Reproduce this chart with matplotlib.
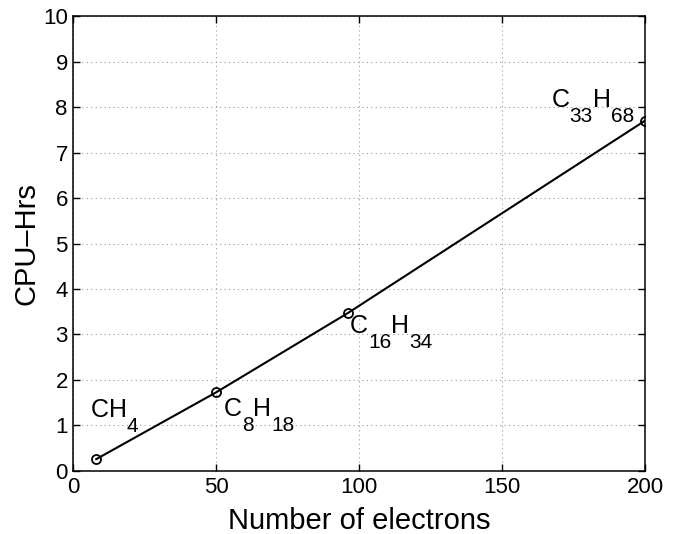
import matplotlib
matplotlib.use("Agg")
import matplotlib.pyplot as plt

plt.rcParams["font.family"] = ["Liberation Sans", "DejaVu Sans"]

# valence electrons vs. run time for the alkane series
electrons = [8, 50, 96, 200]
cpu_hrs = [0.26, 1.73, 3.47, 7.70]
molecules = [
    [("C", ""), ("H", "4")],
    [("C", "8"), ("H", "18")],
    [("C", "16"), ("H", "34")],
    [("C", "33"), ("H", "68")],
]
# where each formula starts, relative to its point (x in electrons, y in CPU-Hrs)
label_offsets = [(-1.9, 0.93), (2.6, -0.52), (0.8, -0.44), (-32.7, 0.30)]

x_ticks = [0, 50, 100, 150, 200]
y_ticks = list(range(0, 11))


def formula_label(ax, x, y, parts, size=18, sub_size=15, drop=10):
    """Draw a chemical formula with MATLAB-style lowered subscripts."""
    prev = None
    level = 0
    for elem, count in parts:
        for s, sz, lv in ((elem, size, 0), (count, sub_size, -drop)):
            if not s:
                continue
            if prev is None:
                prev = ax.text(x, y, s, fontsize=sz, ha="left", va="baseline")
            else:
                prev = ax.annotate(s, xy=(1, 0), xycoords=prev,
                                   xytext=(0, lv - level), textcoords="offset points",
                                   fontsize=sz, ha="left", va="bottom")
            level = lv


fig = plt.figure(figsize=(6.79, 5.34), dpi=100)
ax = fig.add_axes([0.108, 0.118, 0.842, 0.852])

ax.plot(electrons, cpu_hrs, "-", color="black", lw=1.5, zorder=3)
ax.plot(electrons, cpu_hrs, "o", mfc="none", mec="black", ms=6.5, mew=1.3, zorder=4)

for x, y, parts, (dx, dy) in zip(electrons, cpu_hrs, molecules, label_offsets):
    formula_label(ax, x + dx, y + dy, parts)

ax.set_xlim(0, 200)
ax.set_ylim(0, 10)
ax.set_xticks(x_ticks)
ax.set_yticks(y_ticks)
ax.grid(True, linestyle=(0, (1, 3)), color="#9a9a9a", lw=0.8)
ax.tick_params(direction="in", length=5, width=1, labelsize=16,
               top=True, right=True, pad=4)
for sp in ax.spines.values():
    sp.set_linewidth(1.1)

ax.set_xlabel("Number of electrons", fontsize=21, labelpad=7)
ax.set_ylabel("CPU\u2013Hrs", fontsize=21, labelpad=2)

fig.savefig("out.png", dpi=100)
